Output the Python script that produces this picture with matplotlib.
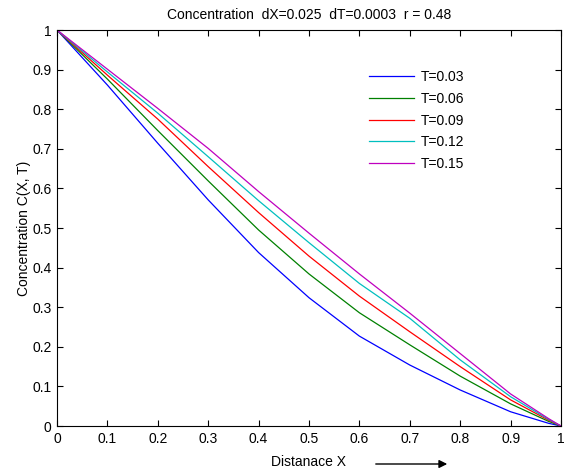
import matplotlib
matplotlib.use("Agg")
import matplotlib.pyplot as plt

plt.rcParams['font.family'] = ['Liberation Sans', 'DejaVu Sans']

# distance grid and concentration profiles
x = [0.0, 0.1, 0.2, 0.3, 0.4, 0.5, 0.6, 0.7, 0.8, 0.9, 0.975, 1.0]
c_t003 = [1.0, 0.861, 0.714, 0.571, 0.438, 0.324, 0.227, 0.154, 0.091, 0.036, 0.007, 0.0]
c_t006 = [1.0, 0.876, 0.746, 0.619, 0.495, 0.384, 0.286, 0.205, 0.126, 0.056, 0.012, 0.0]
c_t009 = [1.0, 0.886, 0.775, 0.655, 0.539, 0.429, 0.328, 0.238, 0.150, 0.066, 0.015, 0.0]
c_t012 = [1.0, 0.894, 0.790, 0.680, 0.569, 0.463, 0.360, 0.272, 0.167, 0.074, 0.017, 0.0]
c_t015 = [1.0, 0.901, 0.802, 0.701, 0.592, 0.487, 0.384, 0.285, 0.183, 0.081, 0.019, 0.0]

labels = ['T=0.03', 'T=0.06', 'T=0.09', 'T=0.12', 'T=0.15']
series = [c_t003, c_t006, c_t009, c_t012, c_t015]
colors = ['#0000ff', '#008000', '#ff0000', '#00bfbf', '#bf00bf']
ticks = [0, 0.1, 0.2, 0.3, 0.4, 0.5, 0.6, 0.7, 0.8, 0.9, 1]
tick_labels = ['0', '0.1', '0.2', '0.3', '0.4', '0.5', '0.6', '0.7', '0.8', '0.9', '1']

fig = plt.figure(figsize=(5.65, 4.71), dpi=100)
ax = fig.add_axes([0.1009, 0.0955, 0.892, 0.8408])

for ys, lab, col in zip(series, labels, colors):
    ax.plot(x, ys, color=col, linewidth=0.9, label=lab)

ax.set_xlim(0, 1)
ax.set_ylim(0, 1)
ax.set_xticks(ticks)
ax.set_xticklabels(tick_labels)
ax.set_yticks(ticks)
ax.set_yticklabels(tick_labels)
ax.tick_params(direction='in', top=True, right=True, length=4, width=0.8,
               labelsize=10, pad=4)
for sp in ax.spines.values():
    sp.set_linewidth(0.8)

ax.set_title('Concentration  dX=0.025  dT=0.0003  r = 0.48', fontsize=10, pad=8)
ax.set_xlabel('Distanace X', fontsize=10, labelpad=7)
ax.set_ylabel('Concentration C(X, T)', fontsize=10, labelpad=1)

ax.legend(loc='upper left', bbox_to_anchor=(0.595, 0.93), frameon=False,
          fontsize=10, handlelength=3.2, handletextpad=0.5, labelspacing=0.55)

# arrow next to the x label
ax.annotate('', xy=(450 / 565, 1 - 464 / 471), xytext=(373 / 565, 1 - 464 / 471),
            xycoords='figure fraction', textcoords='figure fraction',
            arrowprops=dict(arrowstyle='-|>', color='black', lw=1.0,
                            mutation_scale=12))

fig.savefig('out.png', dpi=100)
